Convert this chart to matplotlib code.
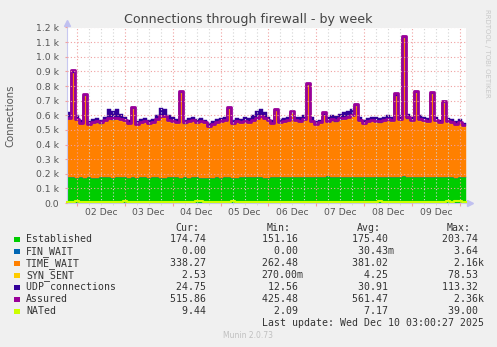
"""Munin style weekly graph: firewall connection tracking (stacked areas + lines)."""
import numpy as np
import matplotlib
matplotlib.use("Agg")
import matplotlib.pyplot as plt
from matplotlib.patches import Rectangle
from matplotlib.ticker import FuncFormatter

# 2-hour samples, sample 0 starts Dec 1 19:00, last one ends Dec 10 03:00
established = [
    178, 176, 174, 175, 173, 176, 174, 172, 175, 177,
    176, 174, 175, 177, 176, 173, 175, 174, 176, 175,
    174, 176, 175, 173, 174, 176, 175, 177, 174, 175,
    173, 175, 176, 174, 172, 171, 173, 175, 174, 176,
    175, 173, 174, 176, 175, 177, 178, 176, 175, 174,
    173, 175, 176, 178, 177, 176, 179, 180, 178, 177,
    179, 178, 176, 177, 180, 182, 181, 179, 178, 180,
    179, 177, 178, 176, 175, 177, 178, 176, 175, 177,
    178, 180, 179, 181, 183, 180, 178, 177, 179, 178,
    177, 176, 178, 175, 176, 177, 175, 174, 176, 175]
fin_wait = [0] * 100
time_wait = [
    393, 710, 391, 363, 552, 354, 370, 374, 363, 377,
    396, 392, 395, 384, 378, 366, 464, 356, 368, 373,
    364, 364, 386, 414, 407, 380, 375, 366, 569, 364,
    376, 381, 369, 374, 369, 347, 357, 368, 374, 381,
    460, 365, 376, 366, 376, 366, 380, 395, 407, 397,
    381, 364, 450, 365, 373, 382, 428, 374, 374, 385,
    619, 373, 353, 363, 420, 370, 379, 375, 388, 390,
    397, 414, 481, 378, 364, 372, 377, 373, 371, 381,
    387, 375, 550, 383, 939, 393, 379, 571, 385, 378,
    372, 561, 378, 366, 504, 371, 369, 357, 368, 347]
syn_sent = [
    4, 5, 3, 4, 6, 4, 3, 4, 5, 4, 3, 4, 5, 4, 4, 3, 5, 4, 4, 3,
    4, 5, 4, 3, 4, 4, 5, 4, 6, 4, 3, 4, 4, 5, 4, 3, 4, 4, 5, 4,
    5, 4, 3, 4, 4, 5, 4, 4, 3, 4, 4, 3, 4, 5, 4, 4, 5, 4, 3, 4,
    6, 4, 3, 4, 5, 4, 4, 3, 4, 5, 4, 4, 6, 4, 3, 4, 5, 4, 4, 3,
    4, 5, 6, 4, 8, 4, 3, 6, 4, 4, 3, 5, 4, 3, 5, 4, 4, 3, 2, 3]
udp = [
    50, 10, 32, 28, 10, 26, 28, 30, 27, 32,
    65, 60, 70, 45, 32, 28, 10, 26, 27, 29,
    28, 30, 35, 60, 55, 40, 30, 28, 10, 27,
    28, 30, 26, 27, 25, 24, 26, 28, 27, 29,
    10, 28, 27, 29, 30, 32, 38, 55, 60, 45,
    32, 28, 10, 27, 26, 28, 10, 32, 30, 34,
    10, 30, 28, 26, 10, 34, 36, 38, 40, 45,
    50, 45, 10, 32, 28, 27, 30, 32, 30, 29,
    31, 30, 10, 32, 10, 33, 30, 10, 32, 30,
    28, 10, 30, 26, 10, 28, 27, 26, 29, 25]
assured = [
    583, 906, 576, 550, 746, 542, 555, 558, 551, 566,
    583, 578, 583, 573, 566, 550, 659, 542, 556, 559,
    550, 553, 573, 598, 593, 568, 563, 555, 764, 551,
    560, 568, 557, 561, 553, 529, 542, 555, 561, 569,
    655, 550, 561, 554, 563, 556, 570, 583, 593, 583,
    566, 550, 645, 556, 562, 570, 627, 566, 563, 574,
    819, 563, 540, 552, 620, 564, 572, 565, 578, 583,
    588, 603, 680, 566, 550, 561, 568, 561, 558, 569,
    577, 568, 750, 576, 1145, 585, 568, 769, 576, 568,
    560, 757, 568, 552, 700, 560, 556, 542, 554, 533]
nated = [
    9, 8, 14, 7, 6, 7, 8, 7, 6, 7, 8, 7, 6, 7, 14, 7, 6, 8, 7, 7,
    6, 7, 8, 7, 6, 7, 7, 8, 6, 7, 7, 6, 13, 14, 7, 6, 7, 8, 7, 7,
    6, 12, 7, 7, 6, 7, 8, 7, 7, 6, 7, 6, 7, 8, 7, 6, 7, 7, 8, 6,
    7, 7, 8, 7, 6, 7, 7, 6, 7, 8, 6, 7, 7, 8, 7, 6, 7, 8, 15, 7,
    7, 6, 7, 8, 7, 6, 7, 8, 7, 7, 6, 7, 8, 7, 6, 13, 7, 12, 13, 9]

day_labels = ["02 Dec", "03 Dec", "04 Dec", "05 Dec",
              "06 Dec", "07 Dec", "08 Dec", "09 Dec"]

names = ["Established", "FIN_WAIT", "TIME_WAIT", "SYN_SENT",
         "UDP connections", "Assured", "NATed"]
colors = ["#00cc00", "#0066b3", "#ff8000", "#ffcc00", "#330099", "#990099", "#ccff00"]
cur = ["174.74", "0.00", "338.27", "2.53", "24.75", "515.86", "9.44"]
mins = ["151.16", "0.00", "262.48", "270.00m", "12.56", "425.48", "2.09"]
avgs = ["175.40", "30.43m", "381.02", "4.25", "30.91", "561.47", "7.17"]
maxs = ["203.74", "3.64", "2.16k", "78.53", "113.32", "2.36k", "39.00"]

W, H = 497, 347
hours = np.arange(len(established) + 1) * 2.0


def ext(a):
    a = np.asarray(a, float)
    return np.append(a, a[-1])


def fx(px):
    return px / W


def fy(py):
    return 1 - py / H


fig = plt.figure(figsize=(W / 100, H / 100), dpi=100, facecolor="#f0f0f0")
ax = fig.add_axes([fx(67), fy(203), 399 / W, 175.5 / H])
ax.set_facecolor("white")

# stacked areas
base = np.zeros(len(hours))
for vals, col in zip([established, fin_wait, time_wait, syn_sent, udp], colors[:5]):
    top = base + ext(vals)
    ax.fill_between(hours, base, top, step="post", color=col, lw=0.3, edgecolor=col)
    base = top
ax.plot(hours, ext(assured), drawstyle="steps-post", color=colors[5], lw=2.0)
ax.plot(hours, ext(nated), drawstyle="steps-post", color=colors[6], lw=1.5,
        clip_on=False, zorder=3)

ax.set_xlim(0, 200)
ax.set_ylim(0, 1200)

# grid: red at midnights / every 100, grey every 6 hours
midnights = np.arange(5, 200, 24)
ax.set_xticks(midnights)
ax.set_xticks(np.arange(5, 200, 6), minor=True)
ax.set_xticklabels([])
ax.set_yticks(np.arange(0, 1201, 100))
ax.yaxis.set_major_formatter(FuncFormatter(
    lambda v, p: "0.0" if v == 0 else f"{v / 1000:.1f} k"))
ax.grid(which="major", color="#f0a0a0", ls=(0, (1, 2)), lw=0.8)
ax.grid(which="minor", axis="x", color="#d4d4d4", ls=(0, (1, 2)), lw=0.8)
ax.set_axisbelow(False)
ax.tick_params(axis="y", length=1.5, color="#f0a0a0", labelcolor="#555555",
               labelsize=6.7, pad=4.3)
ax.tick_params(axis="x", which="major", length=2, color="#f0a0a0")
ax.tick_params(axis="x", which="minor", length=1.5, color="#d4d4d4")
for i, lab in enumerate(day_labels):
    ax.text(17 + 24 * i, -0.055, lab, transform=ax.get_xaxis_transform(),
            ha="center", va="center", fontsize=6.7, color="#555555")

for s in ["top", "right"]:
    ax.spines[s].set_visible(False)
for s in ["left", "bottom"]:
    ax.spines[s].set_color("#c8c8f0")
    ax.spines[s].set_linewidth(0.8)
ax.plot([0], [1.025], marker="^", ms=4, color="#c0c0f0", transform=ax.transAxes, clip_on=False)
ax.plot([1.01], [0], marker=">", ms=4, color="#c0c0f0", transform=ax.transAxes, clip_on=False)

# titles and side texts
fig.text(fx(248.5), fy(19), "Connections through firewall - by week",
         ha="center", va="center", fontsize=9.1, color="#444444")
fig.text(fx(10), fy(116), "Connections", rotation=90, ha="center", va="center",
         fontsize=7.3, color="#555555")
fig.text(fx(487), fy(53), "RRDTOOL / TOBI OETIKER", rotation=270, ha="center",
         va="center", fontsize=5, color="#c8c8c8")
fig.text(fx(248), fy(335.7), "Munin 2.0.73", ha="center", va="center",
         fontsize=5.5, color="#c0c0c0")


# legend table
def fmt(s):
    suf = s[-1] if s[-1] in "mk" else " "
    num = s[:-1] if suf != " " else s
    return f"{num:>6}{suf}"


mono = dict(family="DejaVu Sans Mono", fontsize=7.1, color="#333333", va="center")
cols = [170, 261.7, 351.7, 441.7]
for x, head in zip(cols, ["Cur:", "Min:", "Avg:", "Max:"]):
    fig.text(fx(x + 5), fy(227.7), head, **mono)
for r, name in enumerate(names):
    y = 239.3 + 12 * r
    fig.patches.append(Rectangle((fx(14), fy(y + 2.8)), 5.5 / W, 5.5 / H,
                                 transform=fig.transFigure, facecolor=colors[r],
                                 edgecolor="none"))
    fig.text(fx(26), fy(y), name, **mono)
    for x, vals in zip(cols, [cur, mins, avgs, maxs]):
        fig.text(fx(x), fy(y), fmt(vals[r]), **mono)
fig.text(fx(261.7), fy(323.5), "Last update: Wed Dec 10 03:00:27 2025", **mono)

fig.savefig("out.png", dpi=100, facecolor=fig.get_facecolor())
